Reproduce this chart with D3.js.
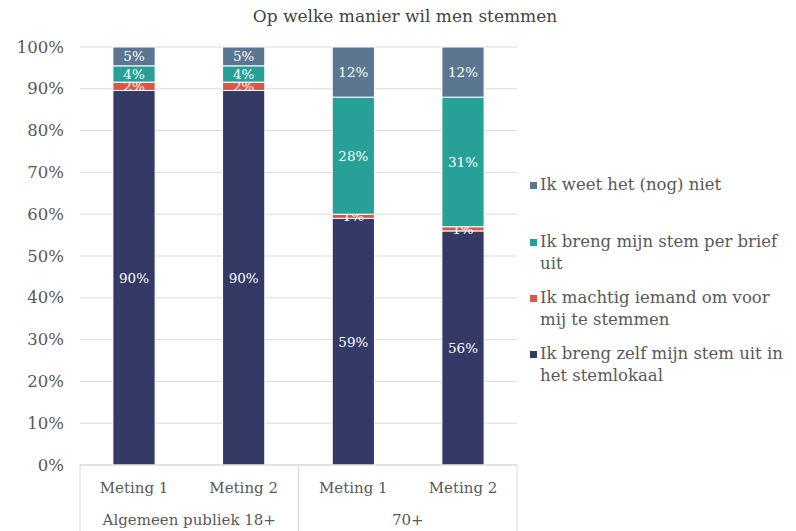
<!DOCTYPE html>
<html>
<head>
<meta charset="utf-8">
<script src="https://cdn.jsdelivr.net/npm/d3@7"></script>
<style>
  body { margin: 0; background: #fff; }
  text { font-family: "DejaVu Serif", "Liberation Serif", serif; }
</style>
</head>
<body>
<svg id="svg"></svg>
<script>
  var width = 796,
      height = 531;

  // data (labels are rounded values)
  var groups = ["Algemeen publiek 18+", "Algemeen publiek 18+", "70+", "70+"];
  var metingen = ["Meting 1", "Meting 2", "Meting 1", "Meting 2"];
  var series = [
    "Ik breng zelf mijn stem uit in het stemlokaal",
    "Ik machtig iemand om voor mij te stemmen",
    "Ik breng mijn stem per brief uit",
    "Ik weet het (nog) niet"
  ];
  var zelf = [89.6, 89.6, 59, 56];
  var machtig = [2, 2, 1, 1];
  var brief = [3.9, 3.9, 28, 31];
  var weetniet = [4.5, 4.5, 12, 12];
  var yTicks = [0, 10, 20, 30, 40, 50, 60, 70, 80, 90, 100];

  var colors = ["#343965", "#d9574a", "#27a197", "#5a7690"];
  var legendLines = [
    ["Ik breng zelf mijn stem uit in", "het stemlokaal"],
    ["Ik machtig iemand om voor", "mij te stemmen"],
    ["Ik breng mijn stem per brief", "uit"],
    ["Ik weet het (nog) niet"]
  ];

  var rows = metingen.map(function(m, i) {
    return { i: i, s0: zelf[i], s1: machtig[i], s2: brief[i], s3: weetniet[i] };
  });

  var plotLeft = 80, plotRight = 517, plotTop = 47, plotBottom = 465;

  var svg = d3.select("#svg")
      .attr("width", width)
      .attr("height", height);

  var x = d3.scaleBand()
      .domain(d3.range(rows.length))
      .range([plotLeft, plotRight])
      .paddingInner(0.615)
      .paddingOuter(0.3);

  var y = d3.scaleLinear()
      .domain([0, 1])
      .range([plotBottom, plotTop]);

  // title
  svg.append("text")
      .attr("x", 405).attr("y", 22)
      .attr("text-anchor", "middle")
      .attr("font-size", 17)
      .attr("fill", "#444")
      .text("Op welke manier wil men stemmen");

  // gridlines
  svg.append("g").selectAll("line")
    .data(yTicks)
    .enter().append("line")
      .attr("x1", plotLeft).attr("x2", plotRight)
      .attr("y1", function(d) { return y(d / 100); })
      .attr("y2", function(d) { return y(d / 100); })
      .attr("stroke", "#d9d9d9");

  // y axis labels
  svg.append("g").selectAll("text")
    .data(yTicks)
    .enter().append("text")
      .attr("x", 64)
      .attr("y", function(d) { return y(d / 100) + 5.5; })
      .attr("text-anchor", "end")
      .attr("font-size", 16.5)
      .attr("fill", "#595959")
      .text(function(d) { return d + "%"; });

  var stack = d3.stack()
      .keys(["s0", "s1", "s2", "s3"])
      .offset(d3.stackOffsetExpand);
  var stacked = stack(rows);

  var layer = svg.append("g").selectAll("g")
    .data(stacked)
    .enter().append("g")
      .attr("fill", function(d, k) { return colors[k]; });

  layer.selectAll("rect")
    .data(function(d) { return d; })
    .enter().append("rect")
      .attr("x", function(d) { return x(d.data.i); })
      .attr("width", x.bandwidth())
      .attr("y", function(d) { return y(d[1]); })
      .attr("height", function(d) { return y(d[0]) - y(d[1]); })
      .attr("stroke", "#fff")
      .attr("stroke-width", 1);

  // value labels
  layer.selectAll("text")
    .data(function(d) { return d.map(function(p) { return { p: p, key: d.key }; }); })
    .enter().append("text")
      .attr("x", function(d) { return x(d.p.data.i) + x.bandwidth() / 2; })
      .attr("y", function(d) { return (y(d.p[0]) + y(d.p[1])) / 2 + 5; })
      .attr("text-anchor", "middle")
      .attr("font-size", 13.5)
      .attr("fill", "#fff")
      .text(function(d) { return Math.round(d.p.data[d.key]) + "%"; });

  // category axis box
  var axisG = svg.append("g").attr("stroke", "#d9d9d9").attr("fill", "none");
  axisG.append("line").attr("x1", plotLeft).attr("x2", plotRight).attr("y1", plotBottom).attr("y2", plotBottom);
  var splits = [plotLeft, (x(1) + x.bandwidth() + x(2)) / 2, plotRight];
  axisG.selectAll(".split")
    .data(splits)
    .enter().append("line")
      .attr("x1", function(d) { return d; }).attr("x2", function(d) { return d; })
      .attr("y1", plotBottom).attr("y2", height);

  svg.append("g").selectAll("text")
    .data(metingen)
    .enter().append("text")
      .attr("x", function(d, i) { return x(i) + x.bandwidth() / 2; })
      .attr("y", 493)
      .attr("text-anchor", "middle")
      .attr("font-size", 15)
      .attr("fill", "#595959")
      .text(function(d) { return d; });

  var groupNames = Array.from(new Set(groups));
  svg.append("g").selectAll("text")
    .data(groupNames)
    .enter().append("text")
      .attr("x", function(d, g) { return (splits[g] + splits[g + 1]) / 2; })
      .attr("y", 525)
      .attr("text-anchor", "middle")
      .attr("font-size", 15)
      .attr("fill", "#595959")
      .text(function(d) { return d; });

  // legend (reverse order, top to bottom)
  var legendY = [190, 247, 303, 359];
  var leg = svg.append("g").selectAll("g")
    .data([3, 2, 1, 0])
    .enter().append("g")
      .attr("transform", function(k, j) { return "translate(530," + legendY[j] + ")"; });
  leg.append("rect")
      .attr("x", 0).attr("y", -8)
      .attr("width", 7).attr("height", 7)
      .attr("fill", function(k) { return colors[k]; });
  leg.append("text")
      .attr("font-size", 16.5)
      .attr("fill", "#595959")
      .selectAll("tspan")
      .data(function(k) { return legendLines[k]; })
      .enter().append("tspan")
        .attr("x", 10)
        .attr("y", function(d, l) { return l * 22; })
        .text(function(d) { return d; });
</script>
</body>
</html>
